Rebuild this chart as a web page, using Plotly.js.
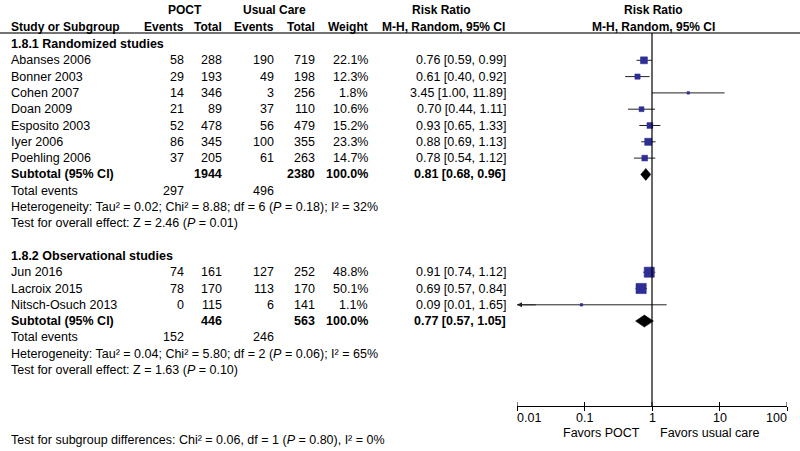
<!DOCTYPE html>
<html><head><meta charset="utf-8">
<script src="https://cdn.plot.ly/plotly-3.0.1.min.js"></script>
<style>html,body{margin:0;padding:0;background:#fff}</style>
</head><body><div id="chart" style="width:800px;height:451px"></div>
<script>
// ---- data ----
const studies1 = ['Abanses 2006','Bonner 2003','Cohen 2007','Doan 2009','Esposito 2003','Iyer 2006','Poehling 2006'];
const poctEvents1 = [58,29,14,21,52,86,37];
const poctTotal1 = [288,193,346,89,478,345,205];
const ucEvents1 = [190,49,3,37,56,100,61];
const ucTotal1 = [719,198,256,110,479,355,263];
const weight1 = [22.1,12.3,1.8,10.6,15.2,23.3,14.7];
const rr1 = [0.76,0.61,3.45,0.70,0.93,0.88,0.78];
const lo1 = [0.59,0.40,1.00,0.44,0.65,0.69,0.54];
const hi1 = [0.99,0.92,11.89,1.11,1.33,1.13,1.12];
const subRR1 = [0.81,0.68,0.96];       // estimate, lower, upper
const subTotals1 = [1944,2380];
const totalEvents1 = [297,496];

const studies2 = ['Jun 2016','Lacroix 2015','Nitsch-Osuch 2013'];
const poctEvents2 = [74,78,0];
const poctTotal2 = [161,170,115];
const ucEvents2 = [127,113,6];
const ucTotal2 = [252,170,141];
const weight2 = [48.8,50.1,1.1];
const rr2 = [0.91,0.69,0.09];
const lo2 = [0.74,0.57,0.01];
const hi2 = [1.12,0.84,1.65];
const subRR2 = [0.77,0.57,1.05];
const subTotals2 = [446,563];
const totalEvents2 = [152,246];

const groupTitles = ['1.8.1 Randomized studies','1.8.2 Observational studies'];
const hetTexts = [
  'Heterogeneity: Tau\u00b2 = 0.02; Chi\u00b2 = 8.88; df = 6 (<i>P</i> = 0.18); I\u00b2 = 32%',
  'Heterogeneity: Tau\u00b2 = 0.04; Chi\u00b2 = 5.80; df = 2 (<i>P</i> = 0.06); I\u00b2 = 65%'
];
const effectTexts = [
  'Test for overall effect: Z = 2.46 (<i>P</i> = 0.01)',
  'Test for overall effect: Z = 1.63 (<i>P</i> = 0.10)'
];
const subgroupText = 'Test for subgroup differences: Chi\u00b2 = 0.06, df = 1 (<i>P</i> = 0.80), I\u00b2 = 0%';
const tickVals = [0.01,0.1,1,10,100];
const tickText = ['0.01','0.1','1','10','100'];
const favorLabels = ['Favors POCT','Favors usual care'];

// ---- layout helpers ----
const FONT = 'Liberation Sans, Arial, sans-serif';
const FS = 12.5;
const FSH = 12;
const ROW0 = 44, PITCH = 16.3;
const py = p => (p - ROW0) / PITCH;
const W = 800;
const px = p => p / W;

const groups = [
  {title: groupTitles[0], start: 0, studies: studies1, pe: poctEvents1, pt: poctTotal1, ue: ucEvents1, ut: ucTotal1, w: weight1, rr: rr1, lo: lo1, hi: hi1, sub: subRR1, tots: subTotals1, ev: totalEvents1, het: hetTexts[0], eff: effectTexts[0]},
  {title: groupTitles[1], start: 13, studies: studies2, pe: poctEvents2, pt: poctTotal2, ue: ucEvents2, ut: ucTotal2, w: weight2, rr: rr2, lo: lo2, hi: hi2, sub: subRR2, tots: subTotals2, ev: totalEvents2, het: hetTexts[1], eff: effectTexts[1]}
];

const COL = {name: 11, pe: 184, pt: 222, ue: 274, ut: 315, w: 368, rr: 506};

const ann = [];
function txt(x, y, text, anchor, bold, size) {
  ann.push({
    xref: 'paper', yref: 'y', x: px(x), y: y, text: bold ? '<b>' + text + '</b>' : text,
    xanchor: anchor, yanchor: 'middle', showarrow: false, borderpad: 0, borderwidth: 0,
    font: {family: FONT, size: size || FS, color: '#000'}
  });
}

// headers
txt(185, py(10), 'POCT', 'center', true, FSH);
txt(274, py(10), 'Usual Care', 'center', true, FSH);
txt(441, py(10), 'Risk Ratio', 'center', true, FSH);
txt(653, py(10), 'Risk Ratio', 'center', true, FSH);
txt(COL.name, py(27), 'Study or Subgroup', 'left', true, FSH);
txt(COL.pe, py(27), 'Events', 'right', true, FSH);
txt(COL.pt, py(27), 'Total', 'right', true, FSH);
txt(COL.ue, py(27), 'Events', 'right', true, FSH);
txt(COL.ut, py(27), 'Total', 'right', true, FSH);
txt(COL.w, py(27), 'Weight', 'right', true, FSH);
txt(443, py(27), 'M-H, Random, 95% CI', 'center', true, FSH);
txt(653, py(27), 'M-H, Random, 95% CI', 'center', true, FSH);

const ciX = [], ciY = [], sqX = [], sqY = [], sqS = [];
const traces = [];
groups.forEach(g => {
  const s = g.start;
  txt(COL.name, s, g.title, 'left', true);
  g.studies.forEach((name, i) => {
    const k = s + 1 + i;
    txt(COL.name, k, name, 'left');
    txt(COL.pe, k, String(g.pe[i]), 'right');
    txt(COL.pt, k, String(g.pt[i]), 'right');
    txt(COL.ue, k, String(g.ue[i]), 'right');
    txt(COL.ut, k, String(g.ut[i]), 'right');
    txt(COL.w, k, g.w[i].toFixed(1) + '%', 'right');
    txt(COL.rr, k, g.rr[i].toFixed(2) + ' [' + g.lo[i].toFixed(2) + ', ' + g.hi[i].toFixed(2) + ']', 'right');
    ciX.push(g.lo[i], g.hi[i], null); ciY.push(k, k, null);
    sqX.push(g.rr[i]); sqY.push(k); sqS.push(Math.max(2.5, 1.4 * Math.sqrt(g.w[i]) + 0.3));
    if (g.lo[i] <= 0.01) {
      ann.push({xref: 'x', yref: 'y', axref: 'x', ayref: 'y', x: Math.log10(0.01), y: k,
        ax: Math.log10(0.02), ay: k, showarrow: true, arrowhead: 2, arrowsize: 1, arrowwidth: 1,
        arrowcolor: '#222', text: ''});
    }
  });
  const ks = s + 1 + g.studies.length;
  txt(COL.name, ks, 'Subtotal (95% CI)', 'left', true);
  txt(COL.pt, ks, String(g.tots[0]), 'right', true);
  txt(COL.ut, ks, String(g.tots[1]), 'right', true);
  txt(COL.w, ks, '100.0%', 'right', true);
  txt(COL.rr, ks, g.sub[0].toFixed(2) + ' [' + g.sub[1].toFixed(2) + ', ' + g.sub[2].toFixed(2) + ']', 'right', true);
  const h = 6 / PITCH;
  traces.push({type: 'scatter', mode: 'lines', x: [g.sub[1], g.sub[0], g.sub[2], g.sub[0], g.sub[1]],
    y: [ks, ks - h, ks, ks + h, ks], fill: 'toself', fillcolor: '#000', line: {color: '#000', width: 0.5},
    hoverinfo: 'skip'});
  txt(COL.name, ks + 1, 'Total events', 'left');
  txt(COL.pe, ks + 1, String(g.ev[0]), 'right');
  txt(COL.ue, ks + 1, String(g.ev[1]), 'right');
  txt(COL.name, ks + 2, g.het, 'left');
  txt(COL.name, ks + 3, g.eff, 'left');
});

traces.unshift({type: 'scatter', mode: 'lines', x: ciX, y: ciY, line: {color: '#222', width: 1}, hoverinfo: 'skip', connectgaps: false});
traces.push({type: 'scatter', mode: 'markers', x: sqX, y: sqY,
  marker: {symbol: 'square', size: sqS, color: '#2e2e96', opacity: 1, line: {width: 0.6, color: '#2e2e96'}}, hoverinfo: 'skip'});

// axis tick labels and favors labels
const AXY = 406;
tickVals.forEach((v, i) => {
  const anchor = i === 0 ? 'left' : (i === tickVals.length - 1 ? 'right' : 'center');
  ann.push({xref: 'x', yref: 'y', x: Math.log10(v), y: py(418), text: tickText[i], xanchor: anchor,
    yanchor: 'middle', showarrow: false, borderpad: 0, borderwidth: 0,
    font: {family: FONT, size: FS, color: '#000'}});
});
txt(640, py(433), favorLabels[0], 'right');
txt(660, py(433), favorLabels[1], 'left');
txt(COL.name, py(440), subgroupText, 'left');

const shapes = [
  {type: 'line', xref: 'paper', yref: 'y', x0: 0, x1: 1, y0: py(33), y1: py(33), line: {color: '#444', width: 1.5}},
  {type: 'line', xref: 'x', yref: 'y', x0: 1, x1: 1, y0: py(33), y1: py(AXY), line: {color: '#000', width: 1.2}}
];
tickVals.forEach(v => {
  shapes.push({type: 'line', xref: 'x', yref: 'y', x0: v, x1: v, y0: py(AXY - 4), y1: py(AXY), line: {color: '#000', width: 1}});
});

const layout = {
  width: 800, height: 451, margin: {l: 0, r: 0, t: 0, b: 0},
  paper_bgcolor: '#fff', plot_bgcolor: '#fff', showlegend: false,
  xaxis: {type: 'log', range: [-2, 2], domain: [px(517), px(787)], anchor: 'free', position: 1 - AXY / 451,
    showline: true, linecolor: '#000', linewidth: 1, ticks: 'outside', ticklen: 4, tickwidth: 1, tickcolor: '#000',
    tickvals: tickVals, showticklabels: false, showgrid: false, zeroline: false, fixedrange: true},
  yaxis: {range: [py(451), py(0)], domain: [0, 1], visible: false, showgrid: false, zeroline: false, fixedrange: true},
  annotations: ann, shapes: shapes,
  font: {family: FONT, size: FS, color: '#000'}
};

Plotly.newPlot('chart', traces, layout, {displayModeBar: false, staticPlot: true});
</script>
</body></html>
